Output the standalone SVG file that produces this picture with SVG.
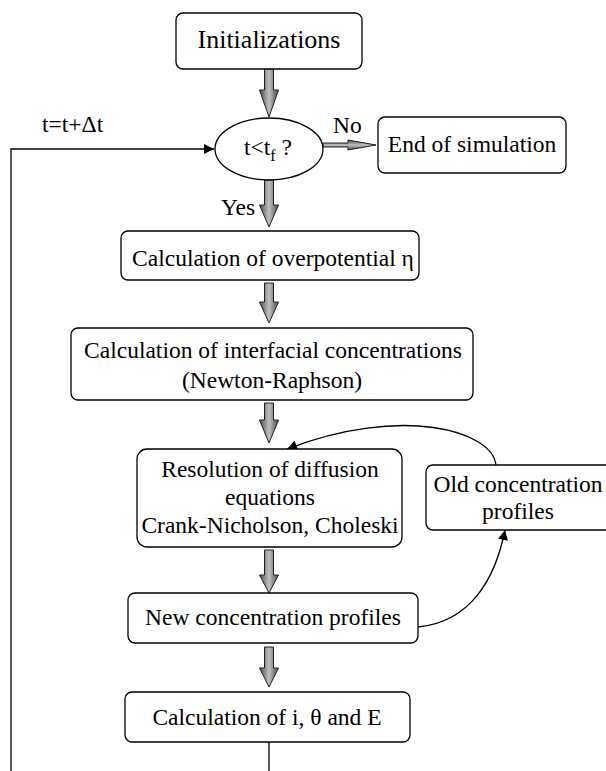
<svg xmlns="http://www.w3.org/2000/svg" width="606" height="771" viewBox="0 0 606 771">
<defs>
<linearGradient id="gv" x1="0" y1="0" x2="1" y2="0">
<stop offset="0" stop-color="#4a4a4a"/><stop offset="0.5" stop-color="#c0c0c0"/><stop offset="1" stop-color="#4a4a4a"/>
</linearGradient>
<linearGradient id="gh" x1="0" y1="0" x2="0" y2="1">
<stop offset="0" stop-color="#4a4a4a"/><stop offset="0.5" stop-color="#c0c0c0"/><stop offset="1" stop-color="#4a4a4a"/>
</linearGradient>
<marker id="ah" viewBox="0 0 10 10" refX="10" refY="5" markerWidth="16" markerHeight="10" markerUnits="userSpaceOnUse" orient="auto">
<path d="M0,0 L10,5 L0,10 z" fill="#000"/>
</marker>
</defs>
<style>
.box{fill:#fff;stroke:#000;stroke-width:1.3}
.t{font-family:"Liberation Serif","Times New Roman",serif;font-size:23.5px;fill:#000}
.c{text-anchor:middle}
.ba{fill:url(#gv);stroke:#222;stroke-width:1}
.bh{fill:url(#gh);stroke:#222;stroke-width:1}
.ln{fill:none;stroke:#000;stroke-width:1.3}
</style>
<g id="connectors">
<path class="ln" d="M11,771 L11,149 L214,149" marker-end="url(#ah)"/>
<path class="ln" d="M496,466 C494,430 400,405 287,449" marker-end="url(#ah)"/>
<path class="ln" d="M418,627 C470,622 495,580 505,530" marker-end="url(#ah)"/>
<path class="ln" d="M269,742 L269,771"/>
<path class="ba" d="M264.5,69 h9 v21 h5 l-9.5,27 l-9.5,-27 h5 z"/>
<path class="ba" d="M264.5,180 h9 v25 h5 l-9.5,22 l-9.5,-22 h5 z"/>
<path class="ba" d="M264.5,283 h9 v19 h5 l-9.5,21 l-9.5,-21 h5 z"/>
<path class="ba" d="M264.5,403 h9 v17 h5 l-9.5,23 l-9.5,-23 h5 z"/>
<path class="ba" d="M264.5,550 h9 v25 h5 l-9.5,18 l-9.5,-18 h5 z"/>
<path class="ba" d="M264.5,647 h9 v21 h5 l-9.5,19 l-9.5,-19 h5 z"/>
<path class="bh" d="M323,143 h25 v-3 l28,5 l-28,5 v-3 h-25 z"/>
</g>
<g id="n-init"><rect class="box" x="176" y="13" width="186" height="56" rx="7"/>
<text class="t c" x="269" y="48" style="font-size:26px">Initializations</text></g>
<g id="n-test"><ellipse class="box" cx="269" cy="149" rx="54" ry="31"/>
<text class="t c" x="268" y="155">t&lt;t<tspan font-size="16" dy="6">f</tspan><tspan dy="-6"> ?</tspan></text></g>
<g id="lbl-loop"><text class="t" x="42" y="132">t=t+Δt</text></g>
<g id="lbl-no"><text class="t" x="333" y="133">No</text></g>
<g id="lbl-yes"><text class="t" x="221" y="215">Yes</text></g>
<g id="n-end"><rect class="box" x="378" y="117" width="188" height="56" rx="7"/>
<text class="t c" x="472" y="152">End of simulation</text></g>
<g id="n-eta"><rect class="box" x="121" y="231" width="298" height="49" rx="7"/>
<text class="t c" x="273" y="266">Calculation of overpotential η</text></g>
<g id="n-inter"><rect class="box" x="71" y="328" width="402" height="72" rx="7"/>
<text class="t c" x="273" y="358">Calculation of interfacial concentrations</text>
<text class="t c" x="272" y="388">(Newton-Raphson)</text></g>
<g id="n-res"><rect class="box" x="137" y="449" width="265" height="98" rx="10"/>
<text class="t c" x="270" y="477">Resolution of diffusion</text>
<text class="t c" x="270" y="505">equations</text>
<text class="t c" x="270" y="533">Crank-Nicholson, Choleski</text></g>
<g id="n-old"><rect class="box" x="426" y="465" width="190" height="65" rx="7"/>
<text class="t c" x="518" y="492">Old concentration</text>
<text class="t c" x="518" y="519">profiles</text></g>
<g id="n-new"><rect class="box" x="128" y="593" width="290" height="50" rx="7"/>
<text class="t c" x="273" y="625">New concentration profiles</text></g>
<g id="n-calc"><rect class="box" x="125" y="692" width="285" height="50" rx="7"/>
<text class="t c" x="267" y="725">Calculation of i, θ and E</text></g>
</svg>
